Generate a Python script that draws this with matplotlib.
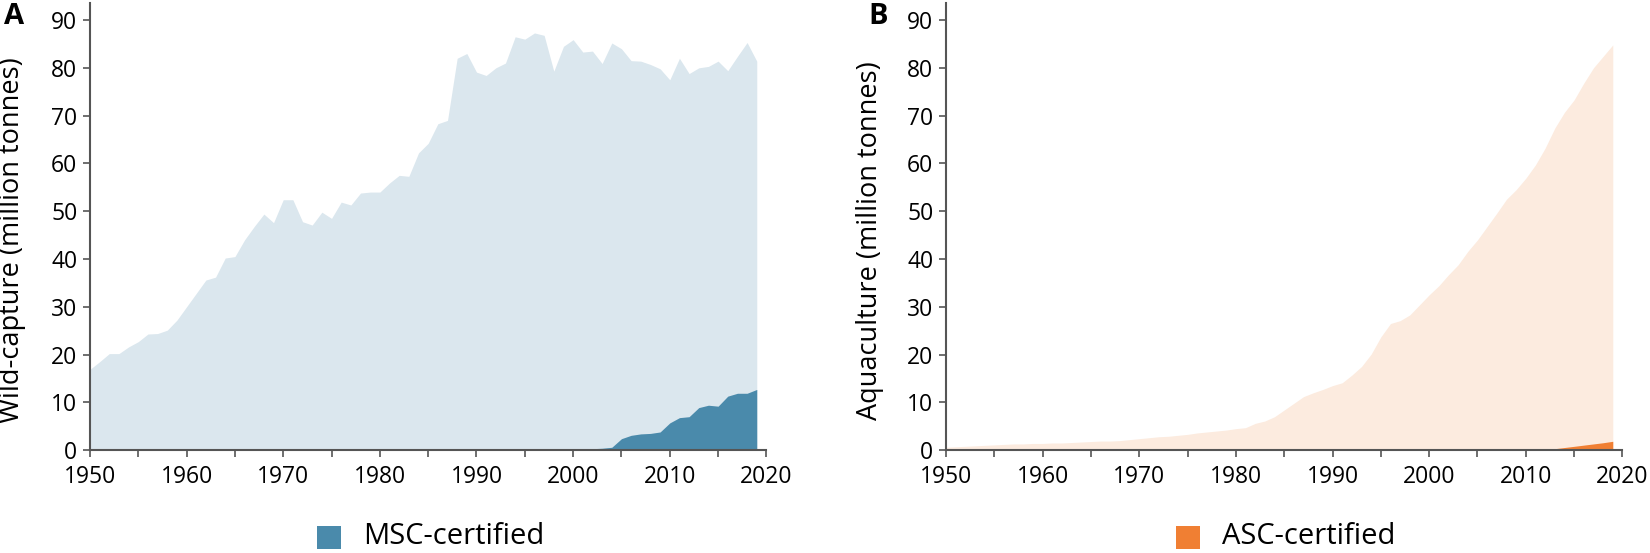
import numpy as np
import matplotlib
matplotlib.use("Agg")
import matplotlib.pyplot as plt
from matplotlib.patches import Rectangle
from matplotlib.ticker import MultipleLocator

plt.rcParams['font.family'] = ['Open Sans', 'DejaVu Sans']

years = np.arange(1950, 2020)

# wild-capture total (million tonnes), 1950-2019
wild_capture = [
    16.9, 18.5, 20.2, 20.2, 21.6, 22.7, 24.3, 24.4, 25.1, 27.2,
    30.0, 32.8, 35.6, 36.2, 40.2, 40.5, 44.0, 46.8, 49.4, 47.6,
    52.4, 52.4, 47.8, 47.1, 49.8, 48.5, 51.9, 51.3, 53.8, 54.0,
    54.0, 55.9, 57.5, 57.3, 62.2, 64.2, 68.3, 69.0, 82.0, 83.0,
    79.1, 78.4, 80.0, 81.0, 86.5, 86.0, 87.3, 86.8, 79.3, 84.5,
    85.9, 83.3, 83.5, 80.9, 85.2, 84.0, 81.5, 81.4, 80.7, 79.8,
    77.5, 82.0, 78.8, 80.0, 80.3, 81.4, 79.4, 82.4, 85.3, 81.4,
]

# MSC-certified catch, 2000-2019
msc_years = np.arange(2000, 2020)
msc_certified = [
    0.3, 0.3, 0.3, 0.4, 0.6, 2.4, 3.1, 3.4, 3.5, 3.8,
    5.7, 6.8, 7.0, 8.9, 9.4, 9.2, 11.3, 11.9, 11.9, 12.7,
]

# aquaculture total (million tonnes), 1950-2019
aquaculture = [
    0.6, 0.7, 0.8, 0.9, 1.0, 1.1, 1.2, 1.3, 1.3, 1.4,
    1.4, 1.5, 1.5, 1.6, 1.7, 1.8, 1.9, 1.9, 2.0, 2.2,
    2.4, 2.6, 2.8, 2.9, 3.1, 3.3, 3.6, 3.8, 4.0, 4.2,
    4.5, 4.7, 5.6, 6.1, 7.0, 8.4, 9.8, 11.2, 12.0, 12.7,
    13.5, 14.1, 15.7, 17.5, 20.1, 23.7, 26.5, 27.1, 28.3, 30.4,
    32.5, 34.4, 36.7, 38.8, 41.6, 44.0, 46.8, 49.6, 52.5, 54.5,
    56.9, 59.7, 63.2, 67.4, 70.7, 73.3, 76.8, 80.0, 82.4, 84.8,
]

# ASC-certified production, 2012-2019
asc_years = np.arange(2012, 2020)
asc_certified = [0.05, 0.3, 0.55, 0.8, 1.05, 1.3, 1.55, 1.85]

panels = [
    ("A", "Wild-capture (million tonnes)", wild_capture, msc_years, msc_certified,
     "#dbe7ee", "#4a8aab", "MSC-certified"),
    ("B", "Aquaculture (million tonnes)", aquaculture, asc_years, asc_certified,
     "#fcebdf", "#f07f33", "ASC-certified"),
]

fig = plt.figure(figsize=(16.5, 5.53), dpi=100)
lefts = [0.0545, 0.5733]
letter_x = [4 / 1650, 868 / 1650]
legend_x = [317 / 1650, 1176 / 1650]
label_x = [-0.094, -0.092]
spine_col = "#555555"

for i, (letter, ylabel, total, cyears, cert, light, dark, legname) in enumerate(panels):
    ax = fig.add_axes([lefts[i], 0.186, 0.410, 0.808])
    ax.fill_between(years, 0, total, color=light, lw=0)
    ax.fill_between(cyears, 0, cert, color=dark, lw=0)
    ax.set_xlim(1950, 2020)
    ax.set_ylim(0, 93.5)
    ax.set_yticks(range(0, 100, 10))
    ax.set_xticks(range(1950, 2030, 10))
    ax.xaxis.set_minor_locator(MultipleLocator(5))
    for s in ["top", "right"]:
        ax.spines[s].set_visible(False)
    for s in ["left", "bottom"]:
        ax.spines[s].set_color(spine_col)
        ax.spines[s].set_linewidth(1.5)
    ax.tick_params(axis="both", which="both", direction="out", length=5,
                   width=1.2, color=spine_col, labelsize=16.5)
    ax.tick_params(axis="x", pad=6)
    ax.tick_params(axis="y", pad=4)
    ax.set_ylabel(ylabel, fontsize=19.5)
    ax.yaxis.set_label_coords(label_x[i], 0.47)

    fig.text(letter_x[i], 1 - 2 / 553, letter, fontsize=21, fontweight="bold",
             ha="left", va="top")
    # legend below the panel
    fig.add_artist(Rectangle((legend_x[i], 4 / 553), 24 / 1650, 23 / 553,
                             transform=fig.transFigure, color=dark, lw=0))
    fig.text(legend_x[i] + 46 / 1650, 17 / 553, legname, fontsize=21,
             ha="left", va="center")

fig.savefig("out.png", dpi=100)
